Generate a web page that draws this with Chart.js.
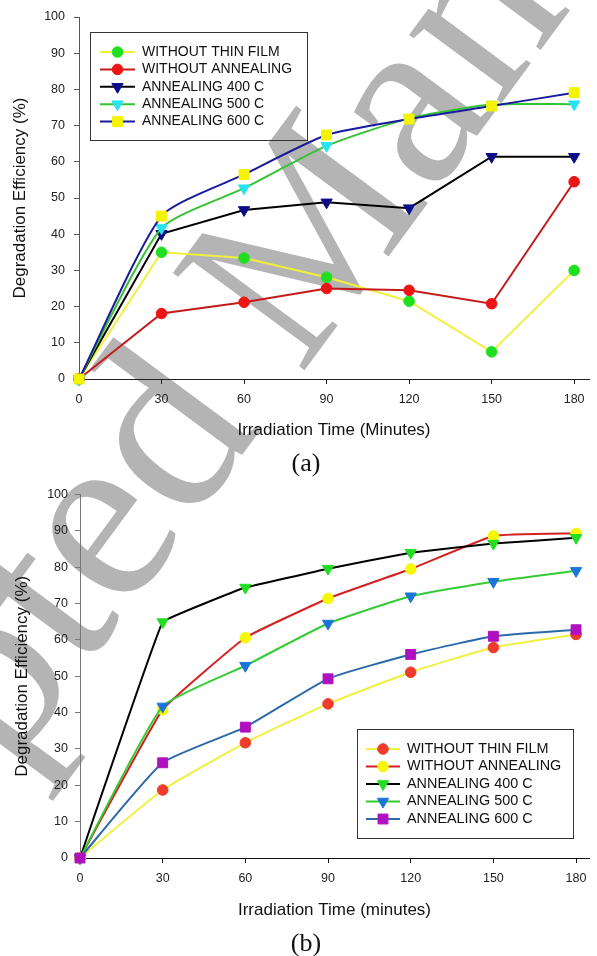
<!DOCTYPE html>
<html><head><meta charset="utf-8">
<script src="https://cdn.jsdelivr.net/npm/chart.js@4.4.0/dist/chart.umd.min.js"></script>
<style>
html,body{margin:0;padding:0;background:#fff;}
#page{position:relative;width:597px;height:956px;overflow:hidden;background:#fff;}
#wm{position:absolute;left:0;top:0;}
.box{position:absolute;left:0;width:597px;}
.cap{position:absolute;font-family:'Liberation Serif','Times New Roman',serif;font-size:26px;color:#111;width:100px;text-align:center;line-height:1;}
</style></head><body>
<div id="page">
<canvas id="wm" width="597" height="956"></canvas>
<div class="box" style="top:0;height:480px"><canvas id="c1"></canvas></div>
<div class="box" style="top:480px;height:476px"><canvas id="c2"></canvas></div>
<div class="cap" style="left:256px;top:450px">(a)</div>
<div class="cap" style="left:256px;top:930px">(b)</div>
</div>
<script>
// ---------- data ----------
const times = [0, 30, 60, 90, 120, 150, 180];
const seriesLabels = ['WITHOUT THIN FILM', 'WITHOUT ANNEALING', 'ANNEALING 400 C', 'ANNEALING 500 C', 'ANNEALING 600 C'];
const yTicks = [0, 10, 20, 30, 40, 50, 60, 70, 80, 90, 100];
const xTicks = [0, 30, 60, 90, 120, 150, 180];

// Panel (a)
const aWithoutThinFilm  = [0, 35.0, 33.4, 28.1, 21.5, 7.5, 30.0];
const aWithoutAnnealing = [0, 18.1, 21.2, 25.0, 24.5, 20.8, 54.5];
const aAnneal400        = [0, 40.1, 46.7, 48.8, 47.2, 61.4, 61.4];
const aAnneal500        = [0, 41.7, 52.7, 64.4, 72.0, 75.8, 75.9];
const aAnneal600        = [0, 45.0, 56.5, 67.4, 71.8, 75.4, 79.1];

// Panel (b)
const bWithoutThinFilm  = [0, 18.7, 31.7, 42.4, 51.1, 57.9, 61.5];
const bWithoutAnnealing = [0, 40.8, 60.6, 71.4, 79.5, 88.6, 89.3];
const bAnneal400        = [0, 64.9, 74.4, 79.6, 84.0, 86.5, 88.1];
const bAnneal500        = [0, 41.7, 52.9, 64.5, 72.0, 76.0, 79.0];
const bAnneal600        = [0, 26.2, 36.0, 49.3, 56.0, 61.0, 62.8];

// ---------- watermark ----------
(function(){
  const wm = document.getElementById('wm').getContext('2d');
  wm.save();
  wm.fillStyle = '#b4b4b4';
  wm.font = '250px "Liberation Serif", "Times New Roman", serif';
  wm.translate(-297, 1186);
  wm.rotate(-53.6 * Math.PI / 180);
  wm.fillText('Accepted Manuscript', 0, 0);
  wm.restore();
})();

// ---------- helpers ----------
const SANS = '"Liberation Sans", Arial, sans-serif';
const pointStyles = ['circle', 'circle', 'triangle', 'triangle', 'rect'];
const pointRots   = [0, 0, 180, 180, 0];
const pointRads   = [5.3, 5.3, 6.5, 6.5, 7];

function drawMarker(ctx, style, rot, r, color, x, y) {
  ctx.save();
  ctx.fillStyle = color; ctx.strokeStyle = color; ctx.lineWidth = 1;
  if (Chart.helpers && Chart.helpers.drawPoint) {
    Chart.helpers.drawPoint(ctx, {pointStyle: style, rotation: rot, radius: r, borderWidth: 1}, x, y);
  } else {
    ctx.beginPath();
    if (style === 'circle') ctx.arc(x, y, r, 0, Math.PI * 2);
    else if (style === 'rect') { const s = r * Math.SQRT1_2; ctx.rect(x - s, y - s, 2 * s, 2 * s); }
    else { ctx.moveTo(x - r * 0.866, y - r / 2); ctx.lineTo(x + r * 0.866, y - r / 2); ctx.lineTo(x, y + r); ctx.closePath(); }
    ctx.fill(); ctx.stroke();
  }
  ctx.restore();
}

const lineLegend = {
  id: 'lineLegend',
  afterDraw(chart, args, o) {
    const ctx = chart.ctx;
    ctx.save();
    ctx.strokeStyle = o.borderColor; ctx.lineWidth = 1;
    ctx.strokeRect(o.left + 0.5, o.top + 0.5, o.width, o.height);
    ctx.font = o.font; ctx.textBaseline = 'middle'; ctx.textAlign = 'left';
    chart.data.datasets.forEach((ds, i) => {
      const y = o.firstY + i * o.step;
      ctx.strokeStyle = ds.borderColor; ctx.lineWidth = ds.borderWidth;
      ctx.beginPath(); ctx.moveTo(o.lineX0, y); ctx.lineTo(o.lineX1, y); ctx.stroke();
      drawMarker(ctx, ds.pointStyle, ds.pointRotation, ds.pointRadius, ds.pointBackgroundColor, (o.lineX0 + o.lineX1) / 2, y);
      ctx.fillStyle = o.color;
      ctx.fillText(ds.label, o.textX, y);
    });
    ctx.restore();
  }
};

function makeDatasets(series, lineColors, markerColors, tensions) {
  return series.map((vals, i) => ({
    label: seriesLabels[i],
    data: times.map((t, j) => ({x: t, y: vals[j]})),
    borderColor: lineColors[i],
    borderWidth: 2,
    backgroundColor: markerColors[i],
    pointBackgroundColor: markerColors[i],
    pointBorderColor: markerColors[i],
    pointBorderWidth: 1,
    pointStyle: pointStyles[i],
    pointRotation: pointRots[i],
    pointRadius: pointRads[i],
    tension: tensions[i],
    fill: false,
    clip: false,
    order: 5 - i
  }));
}

function makeChart(id, datasets, cfg) {
  return new Chart(document.getElementById(id), {
    type: 'line',
    data: {datasets},
    plugins: [lineLegend],
    options: {
      responsive: true, maintainAspectRatio: false, animation: false, devicePixelRatio: 1,
      layout: {padding: cfg.padding},
      plugins: {legend: {display: false}, tooltip: {enabled: false}, lineLegend: cfg.legend},
      scales: {
        x: {
          type: 'linear', min: 0, max: cfg.xMax,
          afterBuildTicks: s => { s.ticks = xTicks.map(v => ({value: v})); },
          afterFit: s => { s.height = cfg.xHeight; },
          grid: {drawOnChartArea: false, drawTicks: true, tickLength: 5, tickColor: cfg.xColor},
          border: {display: true, color: cfg.xColor, width: 1},
          ticks: {padding: 8.5, color: '#222', font: {family: SANS, size: 12.5}, maxRotation: 0, autoSkip: false},
          title: {display: true, text: cfg.xTitle, color: '#111', font: {family: SANS, size: 17}, padding: {top: 0, bottom: cfg.xTitlePad}}
        },
        y: {
          type: 'linear', min: 0, max: 100,
          afterBuildTicks: s => { s.ticks = yTicks.map(v => ({value: v})); },
          afterFit: s => { s.width = cfg.yWidth; },
          grid: {drawOnChartArea: false, drawTicks: true, tickLength: 5, tickColor: cfg.yColor},
          border: {display: true, color: cfg.yColor, width: 1},
          ticks: {padding: cfg.yPad, color: '#222', font: {family: SANS, size: 12.5}},
          title: {display: true, text: 'Degradation Efficiency (%)', color: '#111', font: {family: SANS, size: 17}, padding: {top: cfg.yTitlePad, bottom: 0}}
        }
      }
    }
  });
}

makeChart('c1',
  makeDatasets([aWithoutThinFilm, aWithoutAnnealing, aAnneal400, aAnneal500, aAnneal600],
    ['#f0f03c', '#c41a1a', '#000000', '#33c433', '#1a1a9c'],
    ['#1fe01f', '#ec1414', '#0c0c88', '#26e4f2', '#f4f400'],
    [0, 0, 0, 0.2, 0.2]),
  {
    padding: {top: 17, right: 0, bottom: 0, left: 0},
    xMax: 185.4, xHeight: 101, xTitlePad: 39.8, yWidth: 79, yPad: 9, yTitlePad: 10,
    xColor: '#222', yColor: '#555',
    xTitle: 'Irradiation Time (Minutes)',
    legend: {left: 90, top: 32, width: 217, height: 108, firstY: 52, step: 17.4,
             lineX0: 100, lineX1: 135, textX: 142, font: '14px ' + SANS, color: '#111', borderColor: '#333'}
  });

makeChart('c2',
  makeDatasets([bWithoutThinFilm, bWithoutAnnealing, bAnneal400, bAnneal500, bAnneal600],
    ['#f0f040', '#d42020', '#000000', '#33cc33', '#2a6aa8'],
    ['#ee3b2b', '#f8f800', '#22dd22', '#1a75d9', '#b010c0'],
    [0.15, 0.1, 0.05, 0.15, 0.15]),
  {
    padding: {top: 11, right: 7, bottom: 0, left: 0},
    xMax: 184.7, xHeight: 98, xTitlePad: 35.8, yWidth: 80, yPad: 7, yTitlePad: 12,
    xColor: '#111', yColor: '#777',
    xTitle: 'Irradiation Time (minutes)',
    legend: {left: 357, top: 249, width: 216, height: 109, firstY: 269, step: 17.5,
             lineX0: 366, lineX1: 400, textX: 407, font: '14.4px ' + SANS, color: '#111', borderColor: '#333'}
  });
</script>
</body></html>
